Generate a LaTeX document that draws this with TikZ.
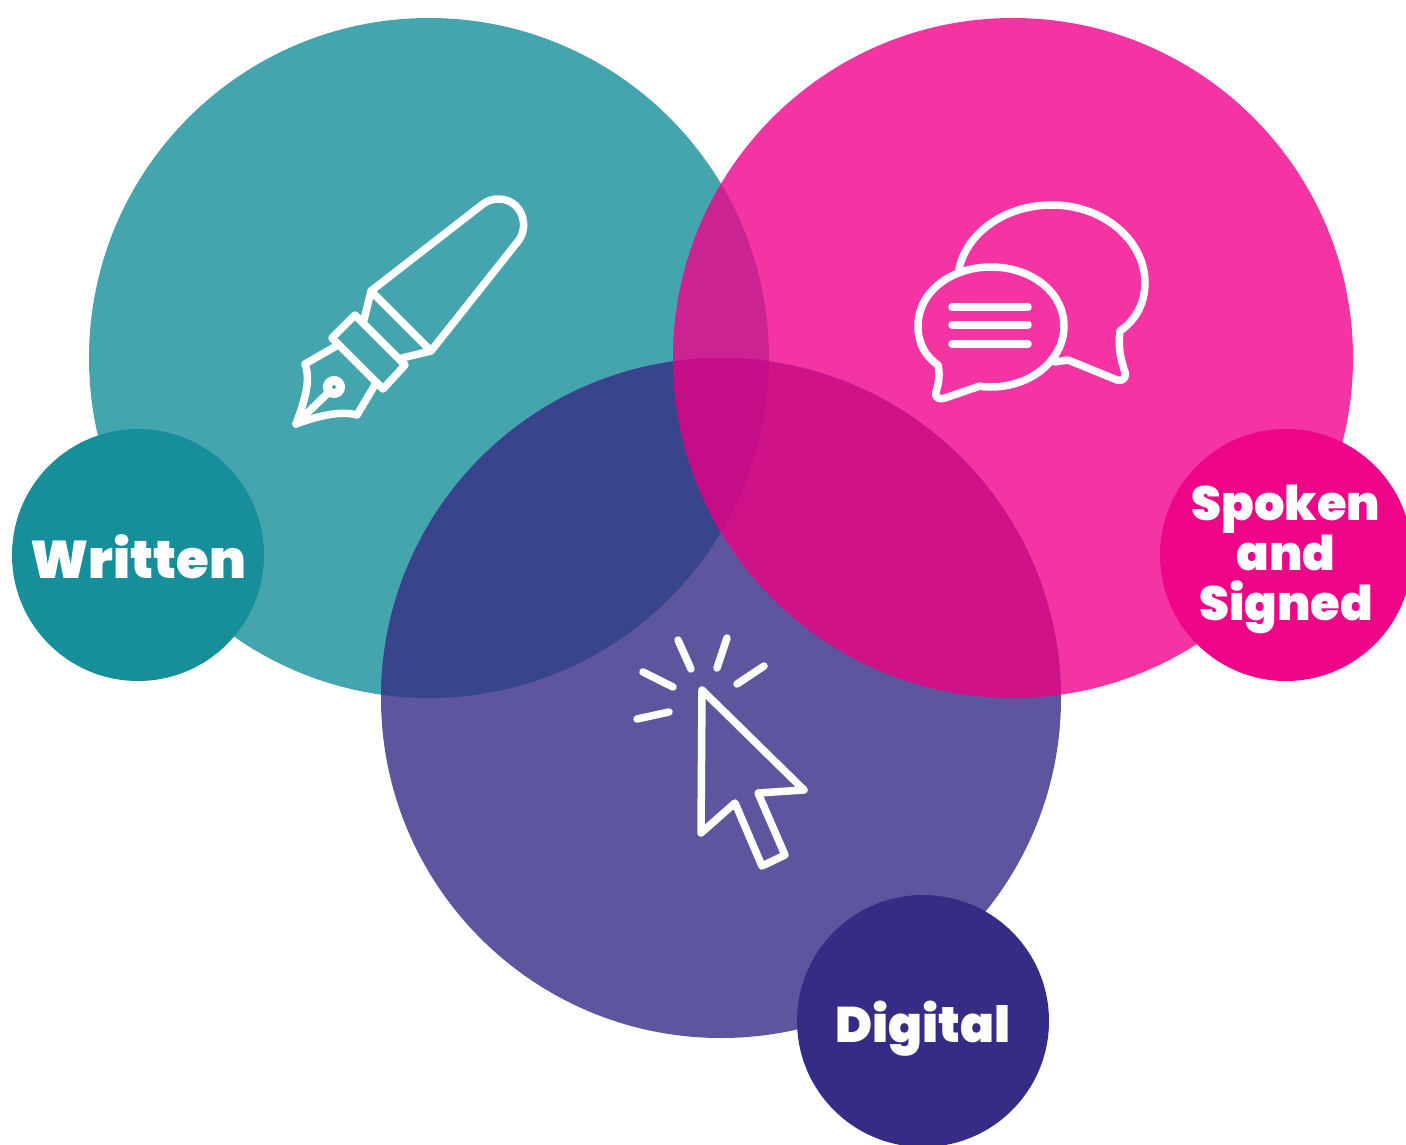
\documentclass[tikz,border=0pt]{standalone}
\usepackage{fontspec}
\setmainfont{Poppins}[BoldFont={Poppins Black}]
\usepackage{xcolor}
\definecolor{tealbig}{HTML}{45A5AF}
\definecolor{pinkbig}{HTML}{F434A2}
\definecolor{purplebig}{HTML}{5D569E}
\definecolor{tealpink}{HTML}{CB2391}
\definecolor{tealpurple}{HTML}{38448B}
\definecolor{pinkpurple}{HTML}{D01289}
\definecolor{allthree}{HTML}{C60D88}
\definecolor{tealsmall}{HTML}{178F9B}
\definecolor{pinksmall}{HTML}{EE0588}
\definecolor{purplesmall}{HTML}{352C85}

\tikzset{
  bigcirc/.style={circle, minimum size=680pt, inner sep=0pt},
  smallcirc/.style={circle, minimum size=252pt, inner sep=0pt},
  label/.style={text=white, align=center, inner sep=0pt, font=\fontsize{#1}{50}\selectfont\bfseries},
  icon/.style={draw=white, line width=7.5pt, line cap=round, line join=round},
}

\begin{document}
\begin{tikzpicture}[x=1pt, y=-1pt]
  \useasboundingbox (0,0) rectangle (1406,1145);
  \clip (0,0) rectangle (1406,1145);

  % big circles
  \node (teal) at (429,358) [bigcirc, fill=tealbig] {};
  \node (pink) at (1013,358) [bigcirc, fill=pinkbig] {};
  \node (purple) at (721,698) [bigcirc, fill=purplebig] {};

  % overlaps
  \begin{scope}
    \clip (teal.center) circle (340pt);
    \fill[tealpink] (pink.center) circle (340pt);
    \fill[tealpurple] (purple.center) circle (340pt);
  \end{scope}
  \begin{scope}
    \clip (pink.center) circle (340pt);
    \fill[pinkpurple] (purple.center) circle (340pt);
    \clip (teal.center) circle (340pt);
    \fill[allthree] (purple.center) circle (340pt);
  \end{scope}

  % small circles
  \node (written) at (138,555) [smallcirc, fill=tealsmall] {};
  \node (spoken) at (1286,555) [smallcirc, fill=pinksmall] {};
  \node (digital) at (923,1021) [smallcirc, fill=purplesmall] {};
  \node (writtentext) at (138,557) [label=53] {Written};
  \node (spokentext) at (1286,559) [label=48] {Spoken\\and\\Signed};
  \node (digitaltext) at (923,1029) [label=50] {Digital};

  % pen
  \draw[icon] (371,291) -- (483,204) .. controls (492,197) and (507,197) .. (516,206)
    .. controls (525,215) and (526,230) .. (519,240) -- (431,351) -- (402,358);
  \draw[icon] (371,291) -- (431,351);
  \draw[icon] (371,291) -- (364,320);
  \draw[icon] (355,315) -- (405,365) -- (383,389) -- (332,338) -- cycle;
  \draw[icon] (338,345) -- (305,364) .. controls (311,380) and (305,400) .. (296,424)
    .. controls (315,417) and (340,410) .. (357,415) -- (376,383);
  \draw[icon] (296,424) -- (330,391);
  \draw[draw=white, line width=9pt] (334,387) circle (6.5pt);

  % speech bubbles
  \draw[icon] (938,365) .. controls (925,356) and (918,343) .. (918,326)
    .. controls (918,292) and (951,267) .. (991,267)
    .. controls (1031,267) and (1064,292) .. (1064,326)
    .. controls (1064,360) and (1031,387) .. (991,387)
    .. controls (987,387) and (983,387) .. (980,386) -- (945,398)
    .. controls (940,400) and (934,398) .. (936,392)
    .. controls (939,382) and (940,374) .. (938,365) -- cycle;
  \draw[icon] (959,269) .. controls (967,232) and (1006,205) .. (1052,205)
    .. controls (1103,205) and (1145,240) .. (1145,283)
    .. controls (1145,303) and (1136,320) .. (1120,331)
    .. controls (1118,345) and (1120,358) .. (1125,372)
    .. controls (1127,378) and (1122,382) .. (1117,380) -- (1068,360) -- (1055,362);
  \foreach \y in {307,325,344}
    \draw[icon] (952,\y) -- (1028,\y);

  % cursor
  \draw[icon] (702,690) -- (701,833) -- (735,803) -- (762,866) -- (785,855)
    -- (758,793) -- (804,790) -- cycle;
  \draw[icon] (678,640) -- (691,669);
  \draw[icon] (727,638) -- (717,668);
  \draw[icon] (764,666) -- (737,684);
  \draw[icon] (643,672) -- (673,687);
  \draw[icon] (637,719) -- (669,712);
\end{tikzpicture}
\end{document}
